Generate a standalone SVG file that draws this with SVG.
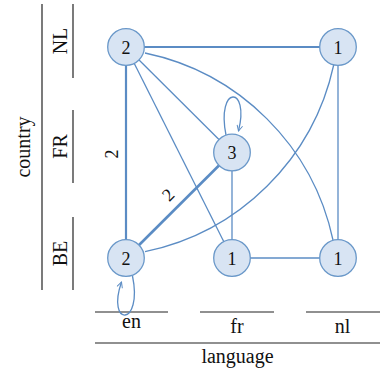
<svg xmlns="http://www.w3.org/2000/svg" width="384" height="372" viewBox="0 0 384 372">
<defs>
<style>
.ax{stroke:#222;stroke-width:1.2;fill:none}
.lbl{font-family:"Liberation Serif","Times New Roman",serif;font-size:20px;fill:#111;text-anchor:middle}
.nl{font-family:"Liberation Serif","Times New Roman",serif;font-size:18px;fill:#111;text-anchor:middle}
.e{stroke:#5b8cc4;fill:none;stroke-width:1.3}
.n{fill:#d8e4f3;stroke:#6a98c9;stroke-width:1.3}
</style>
<marker id="arr" viewBox="0 0 10 10" refX="9" refY="5" markerWidth="7" markerHeight="7" markerUnits="userSpaceOnUse" orient="auto">
<path d="M1,1 L9,5 L1,9" fill="none" stroke="#5b8cc4" stroke-width="1.4"/>
</marker>
</defs>
<g id="axes">
<line class="ax" x1="42" y1="4" x2="42" y2="290"/>
<line class="ax" x1="73" y1="4" x2="73" y2="78"/>
<line class="ax" x1="73" y1="110" x2="73" y2="183"/>
<line class="ax" x1="73" y1="217" x2="73" y2="290"/>
<text class="lbl" transform="translate(30,147) rotate(-90)">country</text>
<text class="lbl" transform="translate(67,41) rotate(-90)">NL</text>
<text class="lbl" transform="translate(67,146.5) rotate(-90)">FR</text>
<text class="lbl" transform="translate(67,253.5) rotate(-90)">BE</text>
<line class="ax" x1="95" y1="312" x2="168" y2="312"/>
<line class="ax" x1="200" y1="312" x2="274" y2="312"/>
<line class="ax" x1="306" y1="312" x2="380" y2="312"/>
<line class="ax" x1="95" y1="343" x2="380" y2="343"/>
<text class="lbl" x="131.5" y="328">en</text>
<text class="lbl" x="237" y="333">fr</text>
<text class="lbl" x="342.5" y="333">nl</text>
<text class="lbl" x="237.5" y="363">language</text>
</g>
<g id="connectors">
<path class="e" d="M126,47 H338" style="stroke-width:2"/>
<path class="e" d="M126,47 V258" style="stroke-width:2.2"/>
<path class="e" d="M126,258 L232,152.5" style="stroke-width:2.6"/>
<path class="e" d="M126,47 L232,152.5"/>
<path class="e" d="M126,47 L232,258"/>
<path class="e" d="M232,152.5 V258"/>
<path class="e" d="M232,258 H338"/>
<path class="e" d="M338,47 V258"/>
<path class="e" d="M145,53 A243,243 0 0 1 333,240"/>
<path class="e" d="M333.7,65 A244,244 0 0 1 145,251.7"/>
<path class="e" d="M226,135 C216,85 250,85 238.5,131" marker-end="url(#arr)"/>
<path class="e" d="M132.5,276 C143,327 106,327 121.5,282" marker-end="url(#arr)"/>
<text class="nl" transform="translate(117.5,154) rotate(-90)">2</text>
<text class="nl" transform="translate(172.5,199) rotate(-45)">2</text>
</g>
<g id="nA"><circle class="n" cx="126" cy="47" r="18.3"/><text class="nl" x="126" y="53.5">2</text></g>
<g id="nB"><circle class="n" cx="338" cy="47" r="18.3"/><text class="nl" x="338" y="53.5">1</text></g>
<g id="nC"><circle class="n" cx="232" cy="152.5" r="18.3"/><text class="nl" x="232" y="159">3</text></g>
<g id="nD"><circle class="n" cx="126" cy="258" r="18.3"/><text class="nl" x="126" y="264.5">2</text></g>
<g id="nE"><circle class="n" cx="232" cy="258" r="18.3"/><text class="nl" x="232" y="264.5">1</text></g>
<g id="nF"><circle class="n" cx="338" cy="258" r="18.3"/><text class="nl" x="338" y="264.5">1</text></g>
</svg>
